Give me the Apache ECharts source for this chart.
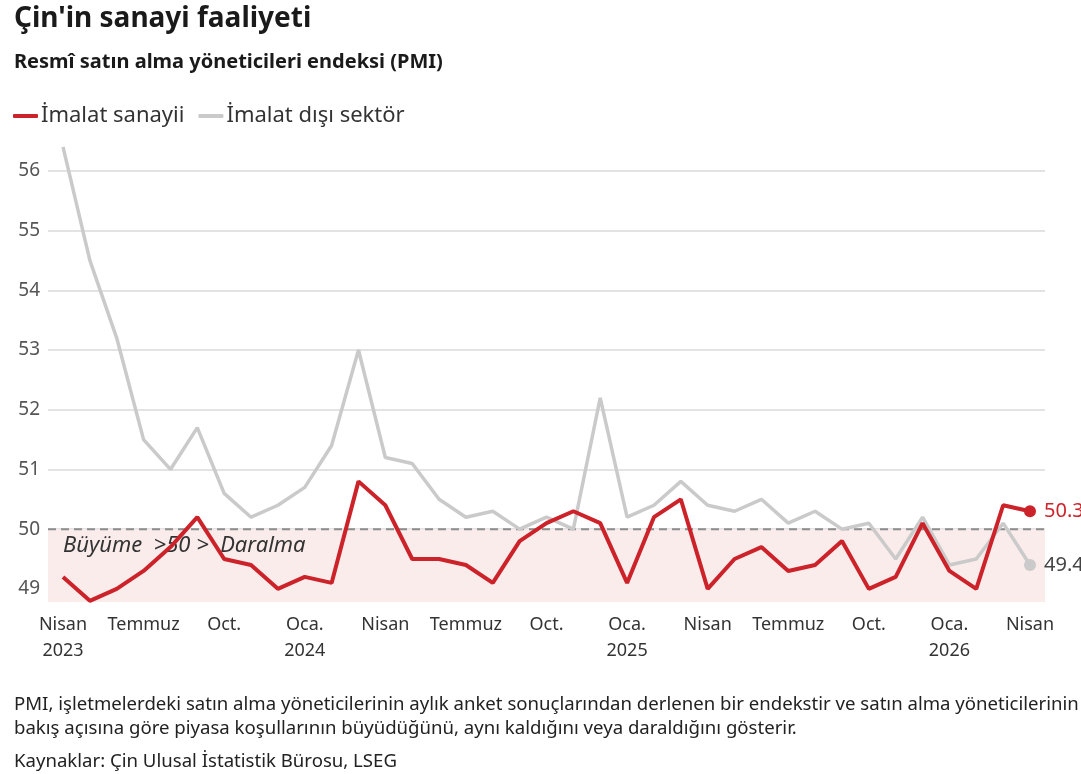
<!DOCTYPE html>
<html>
<head>
<meta charset="utf-8">
<script src="https://cdn.jsdelivr.net/npm/echarts@6/dist/echarts.min.js"></script>
<style>
  html, body { margin: 0; padding: 0; background: #fff; }
  #chart { width: 1081px; height: 774px; }
</style>
</head>
<body>
<div id="chart"></div>
<script>
// ay etiketleri (Nisan 2023 - Nisan 2026), her 3 ayda bir gösterilir
var months = [
  'Nisan\n2023', 'Mayıs', 'Haziran', 'Temmuz', 'Ağustos', 'Eylül', 'Oct.', 'Kasım', 'Aralık',
  'Oca.\n2024', 'Şubat', 'Mart', 'Nisan', 'Mayıs', 'Haziran', 'Temmuz', 'Ağustos', 'Eylül', 'Oct.', 'Kasım', 'Aralık',
  'Oca.\n2025', 'Şubat', 'Mart', 'Nisan', 'Mayıs', 'Haziran', 'Temmuz', 'Ağustos', 'Eylül', 'Oct.', 'Kasım', 'Aralık',
  'Oca.\n2026', 'Şubat', 'Mart', 'Nisan'
];

var imalat = [
  49.2, 48.8, 49.0, 49.3, 49.7, 50.2, 49.5, 49.4, 49.0,
  49.2, 49.1, 50.8, 50.4, 49.5, 49.5, 49.4, 49.1, 49.8, 50.1, 50.3, 50.1,
  49.1, 50.2, 50.5, 49.0, 49.5, 49.7, 49.3, 49.4, 49.8, 49.0, 49.2, 50.1,
  49.3, 49.0, 50.4, 50.3
];

var imalatDisi = [
  56.4, 54.5, 53.2, 51.5, 51.0, 51.7, 50.6, 50.2, 50.4,
  50.7, 51.4, 53.0, 51.2, 51.1, 50.5, 50.2, 50.3, 50.0, 50.2, 50.0, 52.2,
  50.2, 50.4, 50.8, 50.4, 50.3, 50.5, 50.1, 50.3, 50.0, 50.1, 49.5, 50.2,
  49.4, 49.5, 50.1, 49.4
];

var threshold = 50;
var yMin = 48.78;
var yMax = 56.5;

var RED = '#cc2229';
var GREY = '#cacaca';
var FONT = 'Noto Sans';

var chart = echarts.init(document.getElementById('chart'));
var last = imalat.length - 1;

function lastDot(size) {
  return function (v, p) { return p.dataIndex === last ? size : 0; };
}

var option = {
  animation: false,
  backgroundColor: '#fff',
  textStyle: { fontFamily: FONT },
  title: [
    {
      text: "Çin'in sanayi faaliyeti",
      left: 9, top: 0,
      textStyle: { fontFamily: FONT, fontSize: 28, fontWeight: 'bold', color: '#1a1a1a' }
    },
    {
      text: 'Resmî satın alma yöneticileri endeksi (PMI)',
      left: 9, top: 47,
      textStyle: { fontFamily: FONT, fontSize: 20, fontWeight: 'bold', color: '#1a1a1a' }
    },
    {
      text: 'PMI, işletmelerdeki satın alma yöneticilerinin aylık anket sonuçlarından derlenen bir endekstir ve satın alma yöneticilerinin\nbakış açısına göre piyasa koşullarının büyüdüğünü, aynı kaldığını veya daraldığını gösterir.',
      left: 9, top: 688,
      textStyle: { fontFamily: FONT, fontSize: 18.6, fontWeight: 'normal', color: '#222', lineHeight: 24 }
    },
    {
      text: 'Kaynaklar: Çin Ulusal İstatistik Bürosu, LSEG',
      left: 9, top: 747,
      textStyle: { fontFamily: FONT, fontSize: 18.6, fontWeight: 'normal', color: '#222' }
    }
  ],
  legend: {
    left: 8, top: 100,
    itemGap: 14,
    itemWidth: 25, itemHeight: 4,
    icon: 'roundRect',
    textStyle: { fontFamily: FONT, fontSize: 22, color: '#333', padding: [0, 0, 0, -2] },
    data: ['İmalat sanayii', 'İmalat dışı sektör']
  },
  grid: [
    { left: 63, right: 51, top: 141, bottom: 172 },
    { left: 48, right: 36, top: 141, bottom: 172 }
  ],
  xAxis: [
    {
      type: 'category',
      gridIndex: 0,
      data: months,
      boundaryGap: false,
      axisLine: { show: false },
      axisTick: { show: false },
      axisLabel: {
        interval: 2,
        margin: 10,
        fontFamily: FONT, fontSize: 18, color: '#333', lineHeight: 26
      }
    },
    { type: 'value', gridIndex: 1, min: 0, max: 1, show: false }
  ],
  yAxis: [
    { type: 'value', gridIndex: 0, min: yMin, max: yMax, show: false },
    {
      type: 'value', gridIndex: 1, min: yMin, max: yMax,
      splitNumber: 8, minInterval: 1, maxInterval: 1,
      axisLine: { show: false },
      axisTick: { show: false },
      axisLabel: {
        margin: 8, showMinLabel: false, showMaxLabel: false,
        fontFamily: FONT, fontSize: 19, color: '#555'
      },
      splitLine: {
        showMinLine: false, showMaxLine: false,
        lineStyle: { color: '#dadada', width: 1.5 }
      }
    }
  ],
  series: [
    {
      // 50 eşiği: kesikli çizgi + daralma bölgesi
      name: 'eşik',
      type: 'line',
      xAxisIndex: 1, yAxisIndex: 1,
      data: [[0, threshold], [1, threshold]],
      symbol: 'none',
      silent: true,
      z: 1,
      lineStyle: { color: '#8c8c8c', width: 2, type: [8, 5] },
      markArea: {
        silent: true,
        itemStyle: { color: '#fbecec' },
        label: {
          show: true,
          position: 'insideTopLeft',
          offset: [10, 1],
          fontFamily: FONT, fontSize: 22, fontStyle: 'italic', color: '#333'
        },
        data: [[{ yAxis: yMin, name: 'Büyüme  >50 >  Daralma' }, { yAxis: threshold }]]
      }
    },
    {
      name: 'İmalat dışı sektör',
      type: 'line',
      data: imalatDisi,
      color: GREY,
      symbol: 'circle',
      symbolSize: lastDot(12),
      showAllSymbol: true,
      z: 3,
      lineStyle: { color: GREY, width: 3.5 },
      itemStyle: { color: GREY },
      endLabel: {
        show: true, distance: 14,
        fontFamily: FONT, fontSize: 20, color: '#444',
        formatter: function (p) { return p.value.toFixed(1); }
      }
    },
    {
      name: 'İmalat sanayii',
      type: 'line',
      data: imalat,
      color: RED,
      symbol: 'circle',
      symbolSize: lastDot(12),
      showAllSymbol: true,
      z: 4,
      lineStyle: { color: RED, width: 4 },
      itemStyle: { color: RED },
      endLabel: {
        show: true, distance: 14,
        fontFamily: FONT, fontSize: 20, color: RED,
        formatter: function (p) { return p.value.toFixed(1); }
      }
    }
  ]
};

chart.setOption(option);
</script>
</body>
</html>
